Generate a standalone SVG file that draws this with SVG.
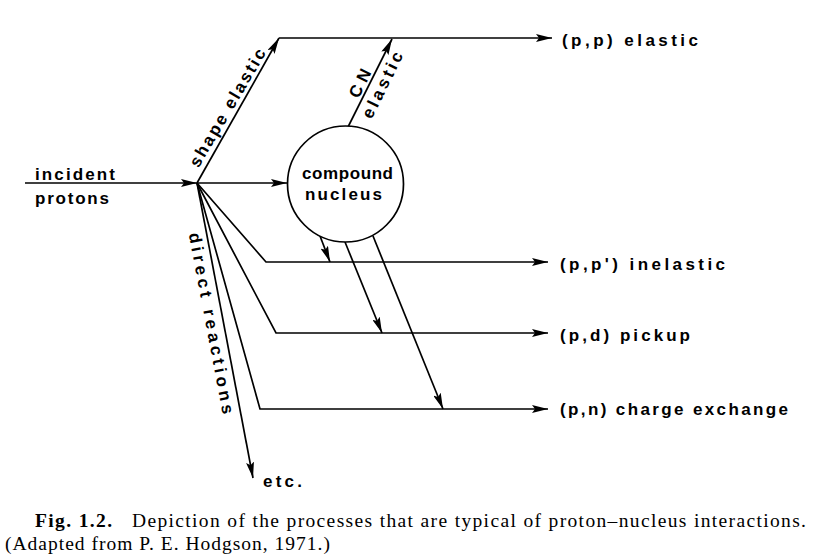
<svg xmlns="http://www.w3.org/2000/svg" width="816" height="560" viewBox="0 0 816 560">
<style>
.ln{fill:none;stroke:#000;stroke-width:1.7;stroke-linejoin:miter}
.lb{font-family:"Liberation Sans",Arial,sans-serif;font-size:17px;font-weight:bold;fill:#000}
.cap{font-family:"Liberation Serif","Times New Roman",serif;font-size:19.5px;fill:#000}
</style>
<defs>
<marker id="ah" markerUnits="userSpaceOnUse" markerWidth="17" markerHeight="8" refX="16" refY="4" orient="auto">
<path d="M0,0 L16,4 L0,8 L3,4 z" fill="#000"/>
</marker>
</defs>
<rect width="816" height="560" fill="#fff"/>
<g id="connectors">
<path class="ln" d="M25,183 L197,183" marker-end="url(#ah)"/>
<path class="ln" d="M197,183 L279,38" marker-end="url(#ah)"/>
<path class="ln" d="M279,38 L552,38" marker-end="url(#ah)"/>
<path class="ln" d="M197,183 L287,183" marker-end="url(#ah)"/>
<path class="ln" d="M348,127 L392,39" marker-end="url(#ah)"/>
<path class="ln" d="M197,183 L266,262 L548,262" marker-end="url(#ah)"/>
<path class="ln" d="M197,183 L276,333 L548,333" marker-end="url(#ah)"/>
<path class="ln" d="M197,183 L260,409 L548,409" marker-end="url(#ah)"/>
<path class="ln" d="M197,183 L253,478" marker-end="url(#ah)"/>
<path class="ln" d="M320,236 L330,262" marker-end="url(#ah)"/>
<path class="ln" d="M345,242 L382,333" marker-end="url(#ah)"/>
<path class="ln" d="M373,236 L443,409" marker-end="url(#ah)"/>
</g>
<g id="incident">
<text class="lb" x="35" y="180" textLength="80" lengthAdjust="spacing">incident</text>
<text class="lb" x="35" y="204" textLength="74" lengthAdjust="spacing">protons</text>
</g>
<g id="compound-nucleus">
<circle cx="345.5" cy="184" r="58" fill="#fff" stroke="#000" stroke-width="1.7"/>
<text class="lb" x="347.5" y="179" text-anchor="middle" textLength="91" lengthAdjust="spacing">compound</text>
<text class="lb" x="343.5" y="200" text-anchor="middle" textLength="77" lengthAdjust="spacing">nucleus</text>
</g>
<g id="edge-labels">
<text class="lb" transform="translate(198.4,168.4) rotate(-59.5)" textLength="134" lengthAdjust="spacing">shape elastic</text>
<text class="lb" transform="translate(358.4,99.3) rotate(-63.7)" textLength="30" lengthAdjust="spacing">CN</text>
<text class="lb" transform="translate(371.6,119.8) rotate(-63.7)" textLength="72" lengthAdjust="spacing">elastic</text>
<text class="lb" transform="translate(188.7,233.9) rotate(79.3)" textLength="184" lengthAdjust="spacing">direct reactions</text>
</g>
<g id="out-elastic"><text class="lb" x="562" y="46" textLength="136" lengthAdjust="spacing">(p,p) elastic</text></g>
<g id="out-inelastic"><text class="lb" x="560" y="270" textLength="165" lengthAdjust="spacing">(p,p') inelastic</text></g>
<g id="out-pickup"><text class="lb" x="560" y="341" textLength="130" lengthAdjust="spacing">(p,d) pickup</text></g>
<g id="out-charge"><text class="lb" x="560" y="415" textLength="228" lengthAdjust="spacing">(p,n) charge exchange</text></g>
<g id="out-etc"><text class="lb" x="263" y="487" textLength="39" lengthAdjust="spacing">etc.</text></g>
<g id="caption">
<text class="cap" x="35" y="527" font-weight="bold" textLength="77" lengthAdjust="spacing">Fig. 1.2.</text>
<text class="cap" x="132" y="527" textLength="674" lengthAdjust="spacing">Depiction of the processes that are typical of proton–nucleus interactions.</text>
<text class="cap" x="5" y="550" textLength="325" lengthAdjust="spacing">(Adapted from P. E. Hodgson, 1971.)</text>
</g>
</svg>
